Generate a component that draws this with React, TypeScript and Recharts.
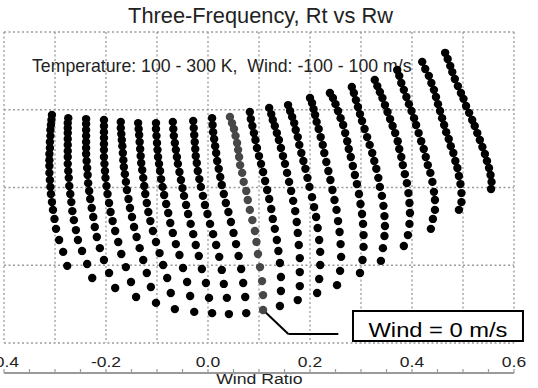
import React from 'react';
import {
  ScatterChart,
  Scatter,
  XAxis,
  YAxis,
  CartesianGrid,
  ReferenceArea,
  ReferenceLine,
  Customized,
} from 'recharts';

// ---------- text ----------
const TITLE = 'Three-Frequency, Rt vs Rw';
const NOTE = 'Temperature: 100 - 300 K,  Wind: -100 - 100 m/s';
const X_LABEL = 'Wind Ratio';
const CALLOUT = 'Wind = 0 m/s';

// ---------- categories ----------
const windSpeeds = [-100, -90, -80, -70, -60, -50, -40, -30, -20, -10, 0, 10, 20, 30, 40, 50, 60, 70, 80, 90, 100];
const temperatures = [100, 110, 120, 130, 140, 150, 160, 170, 180, 190, 200, 210, 220, 230, 240, 250, 260, 270, 280, 290, 300];

// ---------- ticks ----------
const xLabelTicks = [-0.4, -0.2, 0.0, 0.2, 0.4, 0.6];
const xMinorTicks = [-0.4, -0.35, -0.3, -0.25, -0.2, -0.15, -0.1, -0.05, 0, 0.05, 0.1, 0.15, 0.2, 0.25, 0.3, 0.35, 0.4, 0.45, 0.5, 0.55, 0.6];
const xGridTicks = [-0.3, -0.2, -0.1, 0, 0.1, 0.2, 0.3, 0.4, 0.5];
const yGridTicks = [0.25, 0.5, 0.75];
const yMinorTicks = Array.from({ length: 41 }, (_, i) => i * 0.025);

// ---------- series: wind ratio (Rw) per wind speed ----------
const rw_m100 = [-0.306, -0.307, -0.308, -0.309, -0.309, -0.310, -0.310, -0.311, -0.311, -0.311, -0.311, -0.310, -0.309, -0.308, -0.306, -0.304, -0.301, -0.298, -0.292, -0.284, -0.276];
const rw_m90 = [-0.274, -0.275, -0.275, -0.275, -0.275, -0.275, -0.275, -0.275, -0.275, -0.274, -0.273, -0.272, -0.270, -0.268, -0.266, -0.263, -0.259, -0.255, -0.247, -0.237, -0.227];
const rw_m80 = [-0.239, -0.239, -0.239, -0.239, -0.239, -0.239, -0.239, -0.238, -0.237, -0.236, -0.235, -0.233, -0.231, -0.228, -0.225, -0.222, -0.218, -0.212, -0.204, -0.194, -0.182];
const rw_m70 = [-0.204, -0.204, -0.204, -0.204, -0.204, -0.204, -0.204, -0.203, -0.202, -0.201, -0.199, -0.197, -0.194, -0.191, -0.187, -0.182, -0.176, -0.170, -0.161, -0.151, -0.141];
const rw_m60 = [-0.171, -0.171, -0.170, -0.169, -0.168, -0.167, -0.166, -0.165, -0.163, -0.161, -0.159, -0.156, -0.153, -0.149, -0.145, -0.140, -0.134, -0.127, -0.120, -0.112, -0.102];
const rw_m50 = [-0.137, -0.136, -0.135, -0.134, -0.133, -0.132, -0.131, -0.129, -0.127, -0.125, -0.123, -0.120, -0.117, -0.113, -0.108, -0.102, -0.095, -0.088, -0.080, -0.073, -0.065];
const rw_m40 = [-0.102, -0.102, -0.101, -0.100, -0.099, -0.098, -0.096, -0.094, -0.092, -0.089, -0.086, -0.082, -0.078, -0.074, -0.069, -0.063, -0.056, -0.049, -0.041, -0.035, -0.027];
const rw_m30 = [-0.069, -0.068, -0.067, -0.065, -0.063, -0.061, -0.059, -0.056, -0.053, -0.050, -0.047, -0.043, -0.039, -0.034, -0.029, -0.024, -0.018, -0.012, -0.004, 0.002, 0.008];
const rw_m20 = [-0.029, -0.028, -0.027, -0.026, -0.025, -0.024, -0.022, -0.020, -0.017, -0.014, -0.010, -0.006, -0.001, 0.004, 0.010, 0.016, 0.022, 0.027, 0.031, 0.037, 0.041];
const rw_m10 = [0.008, 0.009, 0.010, 0.012, 0.014, 0.016, 0.018, 0.021, 0.024, 0.027, 0.031, 0.035, 0.040, 0.045, 0.050, 0.055, 0.060, 0.065, 0.069, 0.073, 0.075];
const rw_0 = [0.043, 0.047, 0.051, 0.054, 0.057, 0.059, 0.061, 0.063, 0.067, 0.070, 0.075, 0.078, 0.082, 0.087, 0.092, 0.095, 0.098, 0.102, 0.106, 0.108, 0.108];
const rw_p10 = [0.082, 0.084, 0.087, 0.090, 0.093, 0.096, 0.100, 0.104, 0.108, 0.112, 0.116, 0.120, 0.124, 0.127, 0.131, 0.135, 0.138, 0.141, 0.143, 0.143, 0.141];
const rw_p20 = [0.120, 0.124, 0.127, 0.131, 0.135, 0.139, 0.143, 0.147, 0.151, 0.155, 0.159, 0.163, 0.167, 0.171, 0.174, 0.176, 0.178, 0.180, 0.180, 0.180, 0.176];
const rw_p30 = [0.157, 0.161, 0.165, 0.169, 0.172, 0.176, 0.179, 0.183, 0.187, 0.191, 0.195, 0.199, 0.204, 0.208, 0.212, 0.215, 0.218, 0.220, 0.220, 0.218, 0.214];
const rw_p40 = [0.200, 0.204, 0.207, 0.210, 0.213, 0.217, 0.221, 0.225, 0.228, 0.232, 0.236, 0.240, 0.244, 0.248, 0.252, 0.255, 0.258, 0.260, 0.261, 0.259, 0.253];
const rw_p50 = [0.239, 0.245, 0.250, 0.255, 0.260, 0.265, 0.269, 0.273, 0.276, 0.280, 0.284, 0.288, 0.292, 0.296, 0.299, 0.302, 0.304, 0.305, 0.305, 0.303, 0.298];
const rw_p60 = [0.282, 0.286, 0.290, 0.294, 0.298, 0.302, 0.307, 0.312, 0.317, 0.322, 0.326, 0.330, 0.334, 0.337, 0.341, 0.344, 0.346, 0.347, 0.346, 0.343, 0.339];
const rw_p70 = [0.327, 0.332, 0.337, 0.342, 0.347, 0.352, 0.357, 0.362, 0.367, 0.372, 0.375, 0.379, 0.382, 0.386, 0.390, 0.393, 0.395, 0.396, 0.395, 0.392, 0.384];
const rw_p80 = [0.371, 0.375, 0.379, 0.384, 0.389, 0.394, 0.399, 0.404, 0.408, 0.413, 0.418, 0.423, 0.427, 0.431, 0.436, 0.440, 0.443, 0.445, 0.445, 0.441, 0.437];
const rw_p90 = [0.420, 0.426, 0.433, 0.438, 0.443, 0.447, 0.451, 0.455, 0.459, 0.463, 0.467, 0.472, 0.476, 0.481, 0.485, 0.489, 0.492, 0.495, 0.497, 0.497, 0.492];
const rw_p100 = [0.465, 0.470, 0.475, 0.479, 0.484, 0.490, 0.496, 0.501, 0.506, 0.512, 0.518, 0.523, 0.528, 0.533, 0.538, 0.543, 0.547, 0.551, 0.554, 0.556, 0.555];

// ---------- series: temperature ratio (Rt) per wind speed ----------
const rt_m100 = [0.733, 0.717, 0.701, 0.685, 0.666, 0.646, 0.627, 0.608, 0.588, 0.569, 0.547, 0.524, 0.502, 0.479, 0.453, 0.428, 0.399, 0.367, 0.331, 0.293, 0.248];
const rt_m90 = [0.723, 0.707, 0.691, 0.675, 0.656, 0.637, 0.617, 0.598, 0.576, 0.553, 0.531, 0.505, 0.479, 0.453, 0.424, 0.395, 0.363, 0.331, 0.296, 0.254, 0.209];
const rt_m80 = [0.720, 0.704, 0.685, 0.666, 0.646, 0.627, 0.608, 0.585, 0.563, 0.540, 0.514, 0.489, 0.463, 0.434, 0.405, 0.373, 0.341, 0.305, 0.267, 0.225, 0.177];
const rt_m70 = [0.717, 0.698, 0.678, 0.659, 0.640, 0.621, 0.598, 0.576, 0.553, 0.531, 0.505, 0.479, 0.450, 0.421, 0.392, 0.360, 0.325, 0.286, 0.244, 0.196, 0.148];
const rt_m60 = [0.711, 0.691, 0.672, 0.653, 0.633, 0.611, 0.588, 0.566, 0.543, 0.518, 0.492, 0.463, 0.434, 0.405, 0.373, 0.341, 0.305, 0.267, 0.225, 0.180, 0.129];
const rt_m50 = [0.707, 0.688, 0.669, 0.646, 0.624, 0.601, 0.579, 0.556, 0.531, 0.505, 0.479, 0.450, 0.421, 0.392, 0.360, 0.325, 0.289, 0.251, 0.209, 0.161, 0.109];
const rt_m40 = [0.707, 0.688, 0.666, 0.643, 0.621, 0.598, 0.576, 0.553, 0.527, 0.502, 0.476, 0.447, 0.418, 0.386, 0.354, 0.318, 0.283, 0.241, 0.196, 0.151, 0.100];
const rt_m30 = [0.711, 0.688, 0.666, 0.643, 0.621, 0.598, 0.576, 0.550, 0.524, 0.498, 0.473, 0.444, 0.415, 0.383, 0.350, 0.315, 0.280, 0.238, 0.193, 0.145, 0.096];
const rt_m20 = [0.714, 0.691, 0.669, 0.646, 0.624, 0.601, 0.579, 0.553, 0.527, 0.502, 0.473, 0.444, 0.415, 0.383, 0.350, 0.315, 0.277, 0.235, 0.190, 0.145, 0.093];
const rt_m10 = [0.723, 0.701, 0.678, 0.656, 0.633, 0.611, 0.585, 0.560, 0.534, 0.508, 0.479, 0.450, 0.421, 0.389, 0.354, 0.318, 0.280, 0.238, 0.193, 0.148, 0.096];
const rt_0 = [0.727, 0.707, 0.688, 0.666, 0.643, 0.621, 0.598, 0.572, 0.547, 0.518, 0.489, 0.460, 0.428, 0.395, 0.360, 0.325, 0.286, 0.244, 0.199, 0.154, 0.106];
const rt_p10 = [0.743, 0.720, 0.698, 0.675, 0.653, 0.627, 0.601, 0.576, 0.550, 0.521, 0.492, 0.463, 0.431, 0.399, 0.367, 0.331, 0.296, 0.257, 0.212, 0.167, 0.119];
const rt_p20 = [0.756, 0.736, 0.717, 0.698, 0.675, 0.653, 0.627, 0.601, 0.576, 0.547, 0.518, 0.489, 0.457, 0.424, 0.389, 0.354, 0.315, 0.273, 0.228, 0.183, 0.138];
const rt_p30 = [0.765, 0.746, 0.727, 0.707, 0.685, 0.662, 0.637, 0.611, 0.585, 0.560, 0.531, 0.502, 0.469, 0.437, 0.405, 0.370, 0.331, 0.293, 0.251, 0.206, 0.161];
const rt_p40 = [0.788, 0.772, 0.752, 0.733, 0.711, 0.688, 0.662, 0.637, 0.611, 0.582, 0.553, 0.524, 0.492, 0.460, 0.428, 0.392, 0.357, 0.318, 0.277, 0.232, 0.186];
const rt_p50 = [0.804, 0.788, 0.768, 0.746, 0.723, 0.701, 0.675, 0.649, 0.624, 0.598, 0.569, 0.540, 0.511, 0.479, 0.447, 0.415, 0.383, 0.347, 0.309, 0.267, 0.225];
const rt_p60 = [0.823, 0.804, 0.781, 0.759, 0.736, 0.714, 0.688, 0.662, 0.637, 0.611, 0.585, 0.560, 0.531, 0.502, 0.473, 0.441, 0.408, 0.376, 0.344, 0.305, 0.264];
const rt_p70 = [0.846, 0.826, 0.807, 0.788, 0.765, 0.743, 0.720, 0.698, 0.675, 0.649, 0.624, 0.598, 0.572, 0.543, 0.514, 0.482, 0.450, 0.418, 0.383, 0.347, 0.312];
const rt_p80 = [0.878, 0.859, 0.836, 0.814, 0.791, 0.768, 0.746, 0.723, 0.701, 0.675, 0.649, 0.624, 0.598, 0.572, 0.547, 0.518, 0.486, 0.460, 0.428, 0.399, 0.367];
const rt_p90 = [0.904, 0.881, 0.859, 0.836, 0.814, 0.791, 0.768, 0.746, 0.723, 0.701, 0.678, 0.656, 0.633, 0.611, 0.585, 0.563, 0.537, 0.511, 0.482, 0.453, 0.428];
const rt_p100 = [0.933, 0.913, 0.891, 0.871, 0.849, 0.826, 0.804, 0.785, 0.762, 0.740, 0.717, 0.698, 0.675, 0.653, 0.630, 0.608, 0.585, 0.563, 0.540, 0.518, 0.495];

const rwSeries = [rw_m100, rw_m90, rw_m80, rw_m70, rw_m60, rw_m50, rw_m40, rw_m30, rw_m20, rw_m10, rw_0, rw_p10, rw_p20, rw_p30, rw_p40, rw_p50, rw_p60, rw_p70, rw_p80, rw_p90, rw_p100];
const rtSeries = [rt_m100, rt_m90, rt_m80, rt_m70, rt_m60, rt_m50, rt_m40, rt_m30, rt_m20, rt_m10, rt_0, rt_p10, rt_p20, rt_p30, rt_p40, rt_p50, rt_p60, rt_p70, rt_p80, rt_p90, rt_p100];

// ---------- annotation anchors (data units) ----------
const calloutElbow = { x: 0.1575, y: 0.029 };
const calloutEnd = { x: 0.2555, y: 0.029 };
const calloutBox = { x1: 0.2843, x2: 0.6176, y1: 0.0064, y2: 0.1029 };

// ---------- styles ----------
const FONT = "'Liberation Sans', Arial, Helvetica, sans-serif";
const FRAME = '#9a9a9a';
const TEXT = '#222';
const DOT_R = 4.2;

const series = windSpeeds.map((w, i) => ({
  wind: w,
  color: w === 0 ? '#474747' : '#000000',
  data: temperatures.map((t, j) => ({ t, x: rwSeries[i][j], y: rtSeries[i][j] })),
}));

const makeDot = (color: string) => (props: any) => {
  if (props.cx == null || props.cy == null) return <g />;
  return <circle cx={props.cx} cy={props.cy} r={DOT_R} fill={color} />;
};

const BottomTick = (props: any) => {
  const { x, y, payload } = props;
  const v = payload.value;
  const show = xLabelTicks.some((t) => Math.abs(t - v) < 1e-6);
  if (!show) return <g />;
  return (
    <text
      transform={`translate(${x},${y}) scale(1.13,1)`}
      textAnchor="middle"
      fontFamily={FONT}
      fontSize={15.5}
      fill={TEXT}
    >
      {v.toFixed(1)}
    </text>
  );
};

const TextLayer = () => (
  <g fontFamily={FONT} fill={TEXT}>
    <text x={260.5} y={23} textAnchor="middle" fontSize={21.8}>
      {TITLE}
    </text>
    <text x={32} y={72} fontSize={17.7} style={{ whiteSpace: 'pre' }}>
      {NOTE}
    </text>
    <text transform="translate(259.3,384) scale(1.14,1)" textAnchor="middle" fontSize={15.5}>
      {X_LABEL}
    </text>
  </g>
);

const BoxLabel = (props: any) => {
  const vb = props.viewBox || {};
  const cx = vb.x + vb.width / 2;
  const by = vb.y + vb.height - 4;
  return (
    <text
      transform={`translate(${cx},${by}) scale(1.14,1)`}
      textAnchor="middle"
      fontFamily={FONT}
      fontSize={20.8}
      fill="#000"
    >
      {CALLOUT}
    </text>
  );
};

export default function App() {
  const last = series[10].data[series[10].data.length - 1];
  return (
    <div style={{ position: 'absolute', left: 0, top: 0, width: 538, height: 388, background: '#fff' }}>
      <ScatterChart width={538} height={388} margin={{ top: 32, right: 24, bottom: 0, left: 4 }}>
        <XAxis
          xAxisId="grid"
          type="number"
          dataKey="x"
          domain={[-0.4, 0.6]}
          ticks={xGridTicks}
          allowDataOverflow
          hide
        />
        <YAxis
          yAxisId="gridY"
          type="number"
          dataKey="y"
          domain={[0, 1]}
          ticks={yGridTicks}
          allowDataOverflow
          hide
        />
        <CartesianGrid
          xAxisId="grid"
          yAxisId="gridY"
          stroke="#9a9a9a"
          strokeDasharray="2 2.5"
          strokeWidth={1.3}
        />
        <XAxis
          xAxisId="main"
          orientation="bottom"
          type="number"
          dataKey="x"
          domain={[-0.4, 0.6]}
          ticks={xMinorTicks}
          interval={0}
          allowDataOverflow
          height={45}
          tickSize={-4}
          tickMargin={-2}
          tick={<BottomTick />}
          axisLine={{ stroke: FRAME, strokeWidth: 2 }}
          tickLine={{ stroke: FRAME, strokeWidth: 1.2 }}
        />
        <XAxis
          xAxisId="top"
          orientation="top"
          type="number"
          dataKey="x"
          domain={[-0.4, 0.6]}
          ticks={xMinorTicks}
          interval={0}
          allowDataOverflow
          height={0}
          tickSize={-4}
          tick={false}
          axisLine={{ stroke: FRAME, strokeWidth: 2 }}
          tickLine={{ stroke: FRAME, strokeWidth: 1.2 }}
        />
        <YAxis
          yAxisId="left"
          orientation="left"
          type="number"
          dataKey="y"
          domain={[0, 1]}
          ticks={yMinorTicks}
          interval={0}
          allowDataOverflow
          width={0}
          tickSize={-5}
          tick={false}
          axisLine={{ stroke: FRAME, strokeWidth: 2 }}
          tickLine={{ stroke: FRAME, strokeWidth: 1.2 }}
        />
        <YAxis
          yAxisId="right"
          orientation="right"
          type="number"
          dataKey="y"
          domain={[0, 1]}
          ticks={yMinorTicks}
          interval={0}
          allowDataOverflow
          width={0}
          tickSize={-5}
          tick={false}
          axisLine={{ stroke: FRAME, strokeWidth: 2 }}
          tickLine={{ stroke: FRAME, strokeWidth: 1.2 }}
        />
        {series.map((s) => (
          <Scatter
            key={s.wind}
            name={`${s.wind} m/s`}
            data={s.data}
            xAxisId="main"
            yAxisId="left"
            fill={s.color}
            shape={makeDot(s.color)}
            isAnimationActive={false}
          />
        ))}
        <ReferenceLine
          xAxisId="main"
          yAxisId="left"
          segment={[{ x: last.x, y: last.y }, calloutElbow]}
          stroke="#000"
          strokeWidth={2}
          ifOverflow="visible"
        />
        <ReferenceLine
          xAxisId="main"
          yAxisId="left"
          segment={[calloutElbow, calloutEnd]}
          stroke="#000"
          strokeWidth={2}
          ifOverflow="visible"
        />
        <ReferenceArea
          xAxisId="main"
          yAxisId="left"
          x1={calloutBox.x1}
          x2={calloutBox.x2}
          y1={calloutBox.y1}
          y2={calloutBox.y2}
          fill="#fff"
          fillOpacity={1}
          stroke="#000"
          strokeWidth={2}
          ifOverflow="visible"
          label={<BoxLabel />}
        />
        <Customized component={TextLayer} />
      </ScatterChart>
    </div>
  );
}
